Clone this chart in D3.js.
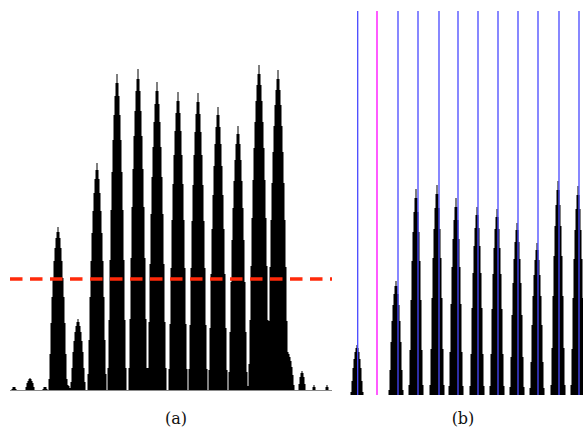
<!DOCTYPE html>
<html>
<head>
<meta charset="utf-8">
<script src="https://cdn.jsdelivr.net/npm/d3@7"></script>
<style>
  html, body { margin: 0; padding: 0; background: #fff; }
  svg { display: block; }
</style>
</head>
<body>
<svg id="chart" width="583" height="431"></svg>
<script>
// Panel (a): projection profile, peak centres (bin index), heights (counts) and relative widths
const peakPosA    = [4, 20, 35, 48, 58, 68, 87, 107, 128, 147, 168, 188, 208, 228, 249, 268, 278, 292, 304, 317];
const peakHeightA = [3, 12, 3, 163, 5, 71, 227, 316, 321, 308, 298, 297, 283, 264, 325, 320, 38, 19, 5, 5];
const peakWidthA  = [0.3, 0.5, 0.3, 1.0, 0.3, 0.8, 1.0, 1.0, 1.0, 1.0, 1.0, 1.0, 1.0, 1.0, 1.12, 1.12, 0.7, 0.4, 0.2, 0.2];
const thresholdA  = 111;
const binsA       = 322;

// Panel (b): profile peaks and the detected cut positions
const peakPosB    = [12, 51, 71, 92, 111, 132, 152, 172, 192, 213, 233];
const peakHeightB = [50, 114, 206, 210, 197, 188, 186, 172, 152, 214, 209];
const peakWidthB  = [0.65, 0.75, 0.75, 0.75, 0.75, 0.75, 0.75, 0.75, 0.75, 0.75, 0.75];
const cutsB       = [12.7, 53, 73, 94, 113, 133, 153, 173, 193, 214, 234];
const rejectedB   = [32];
const binsB       = 240;

// Fraction of the peak height at each bin offset from the centre
const peakShape = [1.0, 0.97, 0.93, 0.87, 0.79, 0.69, 0.57, 0.41, 0.22, 0.07, 0];

const labels = ["(a)", "(b)"];

function shapeAt(d) {
  const i = Math.floor(d), t = d - i;
  if (i >= peakShape.length - 1) return 0;
  return peakShape[i] * (1 - t) + peakShape[i + 1] * t;
}

function profile(pos, hts, wds, n) {
  const out = [];
  for (let x = 0; x <= n; x++) {
    let v = 0;
    pos.forEach((c, k) => {
      v = Math.max(v, hts[k] * shapeAt(Math.abs(x - c) / wds[k]));
    });
    out.push({x, v: Math.round(v)});
  }
  return out;
}

const svg = d3.select("#chart");

// ---- panel (a)
const xA = d3.scaleLinear().domain([0, binsA]).range([10, 332]);
const yA = d3.scaleLinear().domain([0, 330]).range([390, 60]);
const gA = svg.append("g");

gA.append("path")
  .datum(profile(peakPosA, peakHeightA, peakWidthA, binsA))
  .attr("fill", "#000")
  .attr("d", d3.area().curve(d3.curveStep).x(d => xA(d.x)).y0(yA(0)).y1(d => yA(d.v)));

gA.append("line")
  .attr("x1", xA(0)).attr("x2", xA(binsA))
  .attr("y1", yA(0) + 0.5).attr("y2", yA(0) + 0.5)
  .attr("stroke", "#8a8a8a").attr("stroke-width", 1);

gA.append("line")
  .attr("x1", xA(0)).attr("x2", xA(binsA))
  .attr("y1", yA(thresholdA)).attr("y2", yA(thresholdA))
  .attr("stroke", "#ff2a0a").attr("stroke-width", 3.5)
  .attr("stroke-dasharray", "12.5,7.5");

// ---- panel (b)
const xB = d3.scaleLinear().domain([0, binsB]).range([345, 585]);
const yB = d3.scaleLinear().domain([0, 384]).range([395, 11]);
const gB = svg.append("g");

gB.append("path")
  .datum(profile(peakPosB, peakHeightB, peakWidthB, binsB))
  .attr("fill", "#000")
  .attr("d", d3.area().curve(d3.curveStep).x(d => xB(d.x)).y0(yB(0)).y1(d => yB(d.v)));

gB.selectAll("line.cut").data(cutsB).join("line")
  .attr("class", "cut")
  .attr("x1", d => xB(d)).attr("x2", d => xB(d))
  .attr("y1", yB(384)).attr("y2", yB(0))
  .attr("stroke", "#4848ff").attr("stroke-width", 1.3);

gB.selectAll("line.rej").data(rejectedB).join("line")
  .attr("class", "rej")
  .attr("x1", d => xB(d)).attr("x2", d => xB(d))
  .attr("y1", yB(384)).attr("y2", yB(0))
  .attr("stroke", "#ff33ff").attr("stroke-width", 1.6);

// ---- captions
svg.selectAll("text.cap").data(labels).join("text")
  .attr("class", "cap")
  .attr("x", (d, i) => i === 0 ? 176 : 463)
  .attr("y", 424)
  .attr("text-anchor", "middle")
  .attr("font-family", "DejaVu Serif, serif")
  .attr("font-size", 16)
  .attr("fill", "#111")
  .text(d => d);
</script>
</body>
</html>
